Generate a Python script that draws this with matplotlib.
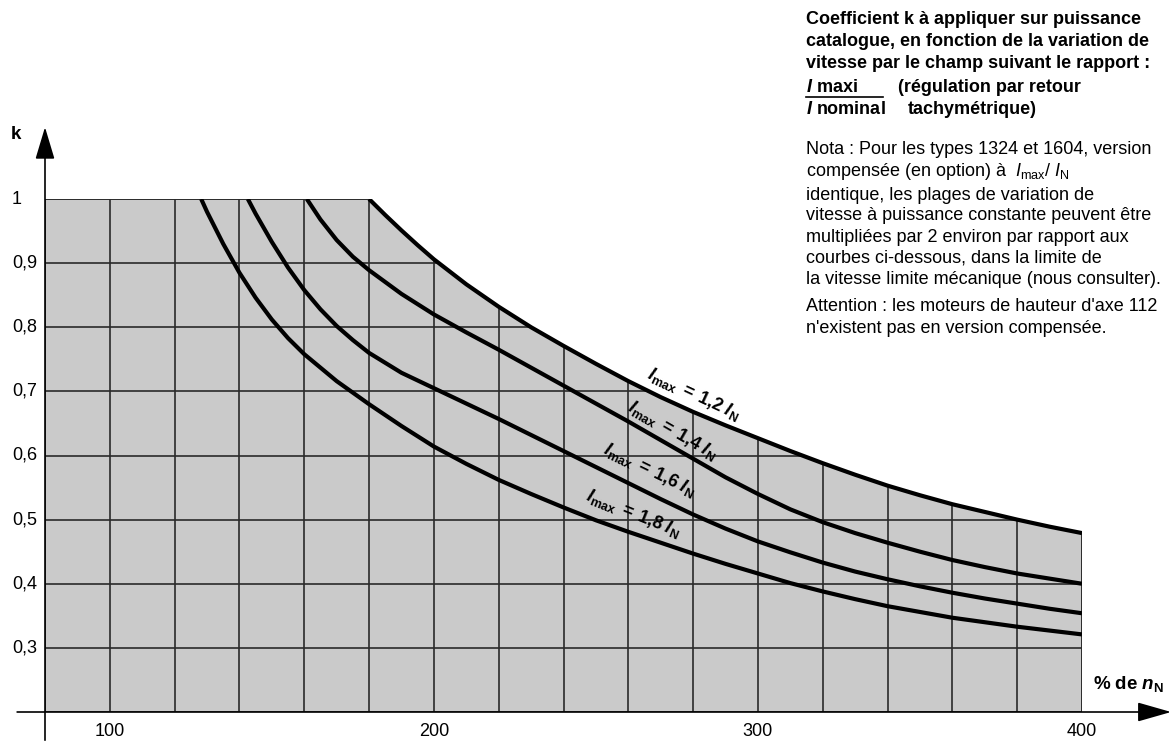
import matplotlib
matplotlib.use('Agg')
import matplotlib.pyplot as plt
from matplotlib.patches import Polygon
import numpy as np

plt.rcParams['font.family'] = ['Liberation Sans', 'DejaVu Sans']
plt.rcParams['mathtext.fontset'] = 'custom'
plt.rcParams['mathtext.rm'] = 'Liberation Sans'
plt.rcParams['mathtext.it'] = 'Liberation Sans:italic'
plt.rcParams['mathtext.bf'] = 'Liberation Sans:bold'
plt.rcParams['mathtext.bfit'] = 'Liberation Sans:bold:italic'

x12 = [180, 185, 190, 195, 200, 210, 220, 230, 240, 250, 260, 270, 280, 290, 300,
       310, 320, 330, 340, 350, 360, 370, 380, 390, 400]
k12 = [1.0, 0.975, 0.951, 0.928, 0.906, 0.867, 0.832, 0.800, 0.771, 0.743, 0.716, 0.691, 0.668, 0.647, 0.627,
       0.607, 0.588, 0.570, 0.553, 0.538, 0.524, 0.512, 0.500, 0.489, 0.479]

x14 = [160.8, 165, 170, 175, 180, 190, 200, 210, 220, 230, 240, 250, 260, 270, 280, 290, 300,
       310, 320, 330, 340, 350, 360, 370, 380, 390, 400]
k14 = [1.0, 0.968, 0.936, 0.910, 0.889, 0.852, 0.820, 0.792, 0.765, 0.737, 0.709, 0.681, 0.653, 0.624, 0.595, 0.566, 0.540,
       0.516, 0.496, 0.479, 0.464, 0.450, 0.437, 0.426, 0.416, 0.408, 0.400]

x16 = [142.6, 145, 150, 155, 160, 165, 170, 175, 180, 190, 200, 210, 220, 230, 240, 250, 260, 270, 280, 290, 300,
       310, 320, 330, 340, 350, 360, 370, 380, 390, 400]
k16 = [1.0, 0.977, 0.933, 0.893, 0.858, 0.828, 0.802, 0.780, 0.760, 0.729, 0.705, 0.681, 0.657, 0.632, 0.607, 0.582, 0.557, 0.532, 0.508, 0.486, 0.466,
       0.449, 0.433, 0.419, 0.407, 0.396, 0.386, 0.377, 0.369, 0.361, 0.354]

x18 = [128.2, 130, 135, 140, 145, 150, 155, 160, 170, 180, 190, 200, 210, 220, 230, 240, 250, 260, 270, 280, 290, 300,
       310, 320, 330, 340, 350, 360, 370, 380, 390, 400]
k18 = [1.0, 0.980, 0.930, 0.885, 0.846, 0.812, 0.783, 0.758, 0.716, 0.680, 0.646, 0.614, 0.587, 0.562, 0.540, 0.519, 0.499, 0.481, 0.464, 0.447, 0.431, 0.416,
       0.401, 0.388, 0.376, 0.365, 0.356, 0.347, 0.340, 0.333, 0.327, 0.321]

x_grid = [100, 120, 140, 160, 180, 200, 220, 240, 260, 280, 300, 320, 340, 360, 380, 400]
k_grid = [0.3, 0.4, 0.5, 0.6, 0.7, 0.8, 0.9, 1.0]
x_ticks = [100, 200, 300, 400]
y_ticks = [1.0, 0.9, 0.8, 0.7, 0.6, 0.5, 0.4, 0.3]
y_ticklabels = ['1', '0,9', '0,8', '0,7', '0,6', '0,5', '0,4', '0,3']

labels = ['1,2', '1,4', '1,6', '1,8']
# position (x, k de la ligne de base) et angle des étiquettes
label_pos = [(279.5, 0.688, -25), (273.0, 0.632, -30), (266.0, 0.570, -26), (261.0, 0.503, -22)]

fig = plt.figure(figsize=(11.76, 7.43), dpi=100)
ax = fig.add_axes([45 / 1176, 31 / 743, 1037 / 1176, 513 / 743])
ax.set_xlim(80, 400)
ax.set_ylim(0.2, 1.0)
ax.axis('off')

# zone grisée
bord_x = [80, 80] + x12 + [400]
bord_k = [0.2, 1.0] + k12 + [0.2]
zone = Polygon(np.column_stack([bord_x, bord_k]), closed=True, facecolor='#cacaca',
               edgecolor='#2a2a2a', linewidth=1.2, zorder=1)
ax.add_patch(zone)

for xv in x_grid:
    l, = ax.plot([xv, xv], [0.2, 1.0], color='#2a2a2a', lw=1.2, zorder=2)
    l.set_clip_path(zone)
for kv in k_grid:
    l, = ax.plot([80, 400], [kv, kv], color='#2a2a2a', lw=1.2, zorder=2)
    l.set_clip_path(zone)

# courbes
for xs, ks in [(x12, k12), (x14, k14), (x16, k16), (x18, k18)]:
    ax.plot(xs, ks, color='black', lw=3.0, zorder=4, solid_capstyle='butt', solid_joinstyle='round')

for lab, (lx, ly, rot) in zip(labels, label_pos):
    s = (r'$\mathbfit{I}_{\mathbf{max}}\;\mathbf{=}\;\mathbf{' + lab.replace(',', '{,}') +
         r'}\;\mathbfit{I}_{\mathbf{N}}$')
    ax.text(lx, ly, s, rotation=rot, rotation_mode='anchor',
            ha='center', va='baseline', fontsize=13, zorder=5)

# axes avec flèches
ax.annotate('', xy=(427.5, 0.2), xytext=(71.4, 0.2), annotation_clip=False,
            arrowprops=dict(arrowstyle='-|>,head_length=1.05,head_width=0.3', mutation_scale=20,
                            color='black', lw=1.2, shrinkA=0, shrinkB=0))
ax.annotate('', xy=(80, 1.112), xytext=(80, 0.156), annotation_clip=False,
            arrowprops=dict(arrowstyle='-|>,head_length=1.0,head_width=0.3', mutation_scale=20,
                            color='black', lw=1.2, shrinkA=0, shrinkB=0))

for yv, lab in zip(y_ticks, y_ticklabels):
    ax.text(69.8, yv, lab, ha='left', va='center', fontsize=13)
for xv in x_ticks:
    ax.text(xv, 0.169, str(xv), ha='center', va='center', fontsize=13)

ax.text(71.0, 1.10, 'k', ha='center', va='center', fontsize=13.5, fontweight='bold')
ax.text(403.5, 0.244, r'% de $\mathbfit{n}_{\mathbf{N}}$', ha='left', va='center',
        fontsize=13.5, fontweight='bold')

# texte à droite
tx = 806 / 1176
fs = 13.0


def fy(py):
    return 1 - py / 743


gras = ['Coefficient k à appliquer sur puissance',
        'catalogue, en fonction de la variation de',
        'vitesse par le champ suivant le rapport :']
for i, t in enumerate(gras):
    fig.text(tx, fy(19 + 22 * i), t, fontsize=fs, fontweight='bold', va='center')
fig.text(tx, fy(87), r'$\mathbfit{I}$ maxi', fontsize=fs, fontweight='bold', va='center')
fig.add_artist(plt.Line2D([tx, 883 / 1176], [fy(97), fy(97)], color='black', lw=1.2))
fig.text(898 / 1176, fy(87), '(régulation par retour', fontsize=fs, fontweight='bold', va='center')
fig.text(tx, fy(109), r'$\mathbfit{I}$ nominal', fontsize=fs, fontweight='bold', va='center')
fig.text(908 / 1176, fy(109), 'tachymétrique)', fontsize=fs, fontweight='bold', va='center')

nota = ['Nota : Pour les types 1324 et 1604, version',
        r'compensée (en option) à  $\mathit{I}_{\mathrm{max}}$/ $\mathit{I}_{\mathrm{N}}$',
        'identique, les plages de variation de',
        'vitesse à puissance constante peuvent être',
        'multipliées par 2 environ par rapport aux',
        'courbes ci-dessous, dans la limite de',
        'la vitesse limite mécanique (nous consulter).']
nota_y = [150, 172, 195, 216, 237, 258, 279]
for t, py in zip(nota, nota_y):
    fig.text(tx, fy(py), t, fontsize=fs, va='center')
fig.text(tx, fy(307), "Attention : les moteurs de hauteur d'axe 112", fontsize=fs, va='center')
fig.text(tx, fy(328), "n'existent pas en version compensée.", fontsize=fs, va='center')

fig.savefig('out.png', dpi=100, facecolor='white')
